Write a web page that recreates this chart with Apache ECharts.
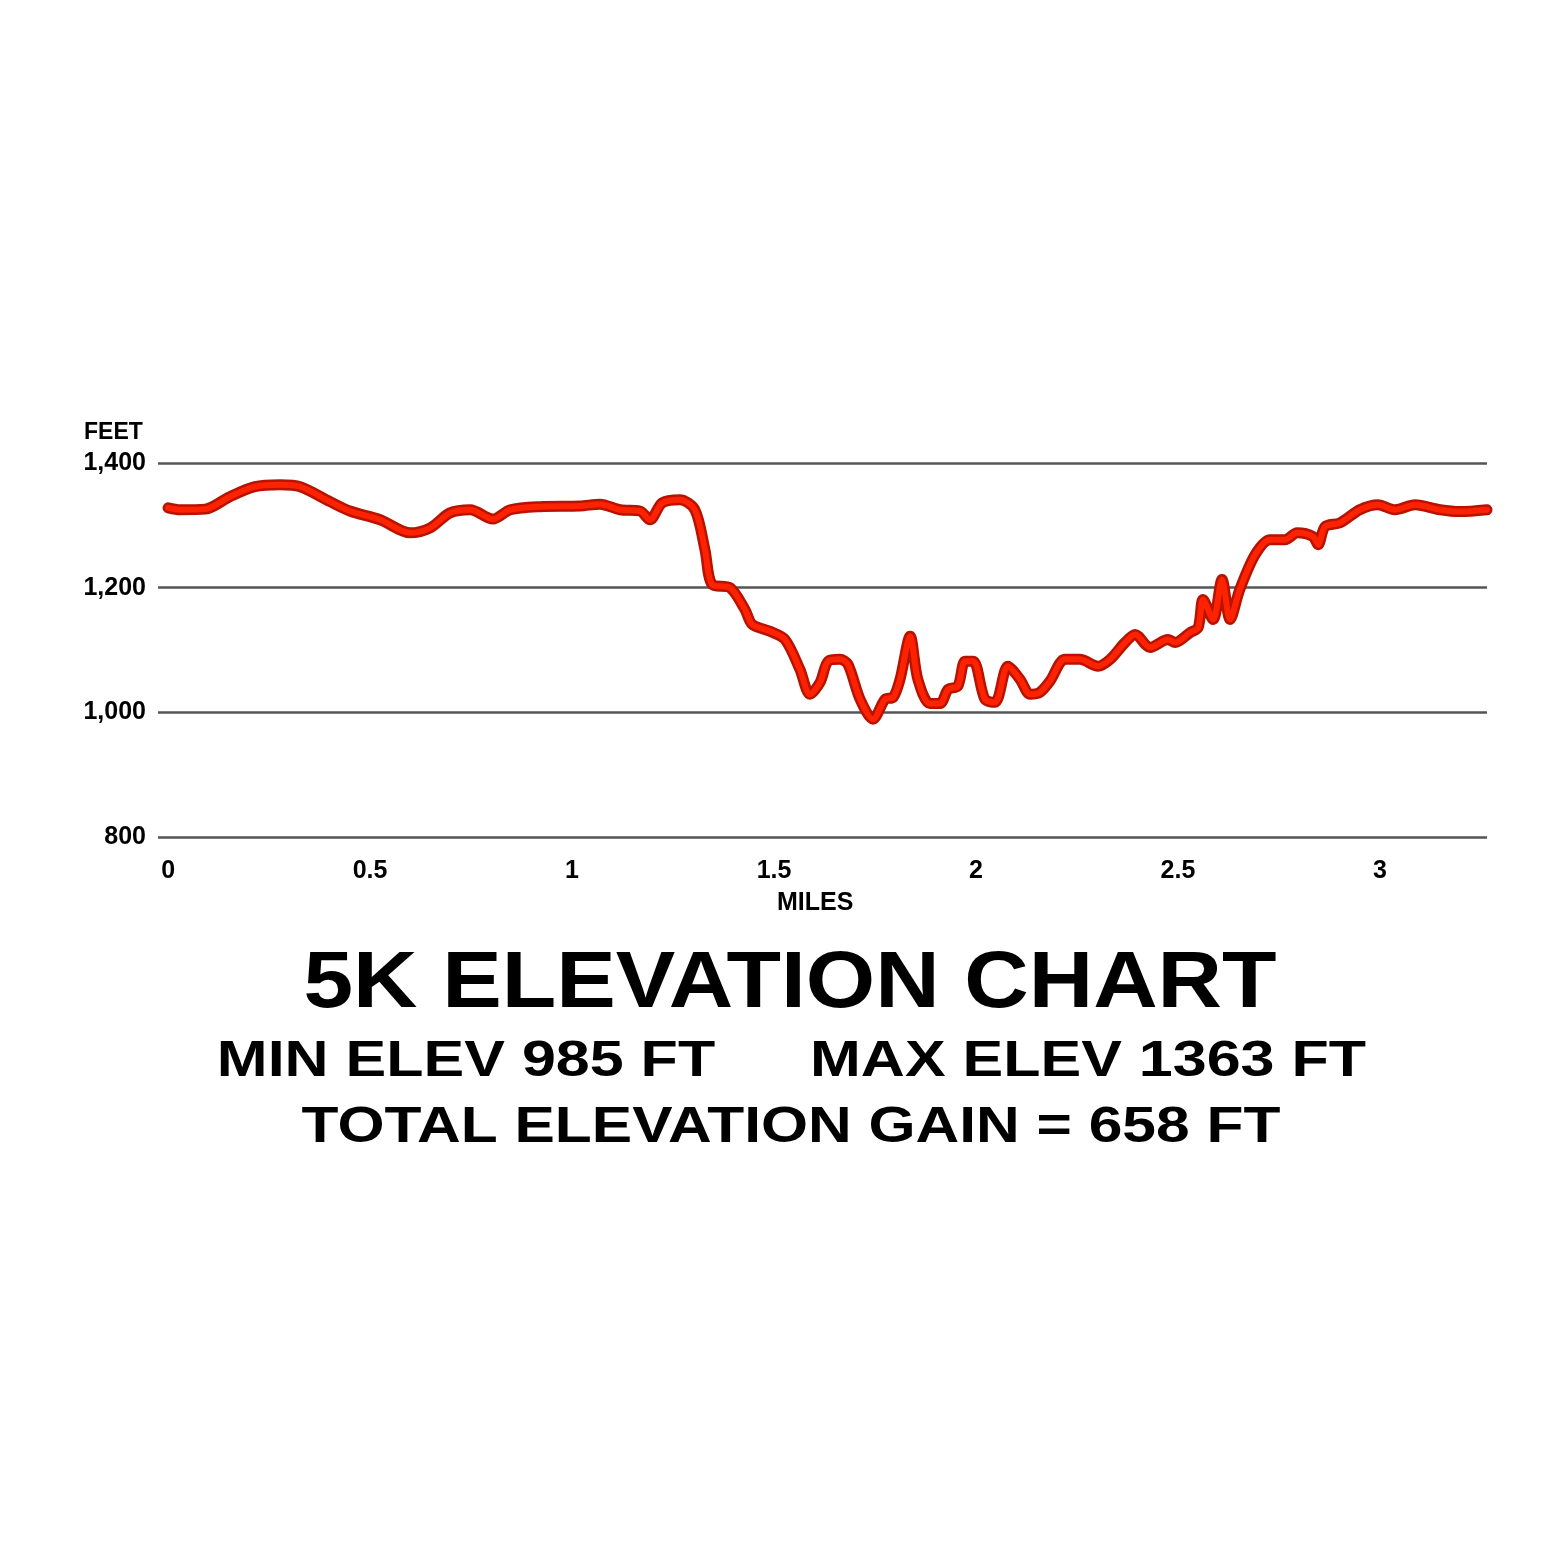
<!DOCTYPE html>
<html>
<head>
<meta charset="utf-8">
<script src="https://cdn.jsdelivr.net/npm/echarts@6/dist/echarts.min.js"></script>
<style>
  html, body { margin: 0; padding: 0; background: #fff; }
  #chart { width: 1560px; height: 1560px; }
</style>
</head>
<body>
<div id="chart"></div>
<script>
// miles along the course
var miles = [0, 0.030, 0.092, 0.153, 0.215, 0.277, 0.327, 0.401, 0.450, 0.525, 0.599, 0.649, 0.698, 0.748, 0.804, 0.847, 0.921,
  1.020, 1.069, 1.119, 1.168, 1.193, 1.223, 1.267, 1.304, 1.329, 1.347, 1.391, 1.428, 1.446, 1.490, 1.527, 1.564, 1.589, 1.614,
  1.634, 1.663, 1.683, 1.713, 1.745, 1.775, 1.795, 1.812, 1.837, 1.856, 1.886, 1.911, 1.931, 1.955, 1.973, 1.993, 2.022, 2.047,
  2.079, 2.109, 2.134, 2.158, 2.183, 2.220, 2.257, 2.302, 2.332, 2.369, 2.394, 2.431, 2.475, 2.493, 2.530, 2.550, 2.562, 2.587,
  2.609, 2.629, 2.653, 2.691, 2.728, 2.765, 2.795, 2.834, 2.847, 2.864, 2.901, 2.950, 2.995, 3.037, 3.087, 3.149, 3.198, 3.265];
// elevation in feet
var feet = [1328, 1325, 1326, 1346, 1362, 1365, 1362, 1338, 1323, 1309, 1288, 1296, 1320, 1325, 1310, 1325, 1330,
  1331, 1334, 1325, 1323, 1309, 1336, 1341, 1325, 1261, 1205, 1200, 1165, 1141, 1130, 1117, 1069, 1029, 1048,
  1082, 1085, 1077, 1021, 989, 1021, 1024, 1053, 1122, 1053, 1014, 1014, 1037, 1042, 1082, 1082, 1021, 1016,
  1074, 1053, 1029, 1032, 1050, 1085, 1085, 1074, 1085, 1112, 1125, 1104, 1117, 1112, 1128, 1136, 1181, 1149,
  1213, 1149, 1197, 1253, 1277, 1277, 1288, 1282, 1269, 1298, 1304, 1325, 1333, 1325, 1333, 1325, 1322, 1325];
var xTicks = [0, 0.5, 1, 1.5, 2, 2.5, 3];

var pts = miles.map(function (m, i) { return [m, feet[i]]; });
var font = '"Liberation Sans", Arial, sans-serif';

// centred heavy text, stretched wider like the original poster font
function bigText(str, x, y, size, sx) {
  return {
    type: 'text', x: x, y: y, scaleX: sx, originX: 0, originY: 0,
    style: { text: str, font: '900 ' + size + 'px ' + font, fill: '#000', align: 'center', verticalAlign: 'middle' }
  };
}

var chart = echarts.init(document.getElementById('chart'));
chart.setOption({
  backgroundColor: '#fff',
  animation: false,
  grid: { left: 158, right: 73, top: 463, bottom: 723 },
  xAxis: {
    type: 'value', min: -0.025, max: 3.265,
    axisLine: { show: false }, axisTick: { show: false }, splitLine: { show: false },
    axisLabel: { customValues: xTicks, margin: 22, fontSize: 25, color: '#000', fontFamily: font, fontWeight: 'bold' }
  },
  yAxis: {
    type: 'value', min: 800, max: 1400, interval: 200,
    axisLine: { show: false }, axisTick: { show: false },
    splitLine: { lineStyle: { color: '#555', width: 2.5 } },
    axisLabel: {
      margin: 12, fontSize: 25, color: '#000', fontFamily: font, fontWeight: 'bold',
      formatter: function (v) { return v >= 1000 ? Math.floor(v / 1000) + ',' + String(v % 1000).padStart(3, '0') : v; }
    }
  },
  series: [
    { type: 'line', data: pts, symbol: 'none', smooth: 0.3, lineStyle: { color: '#b81200', width: 11, join: 'round', cap: 'round' } },
    { type: 'line', data: pts, symbol: 'none', smooth: 0.3, lineStyle: { color: '#ff2200', width: 6, join: 'round', cap: 'round' } }
  ],
  graphic: [
    { type: 'text', left: 84, top: 421, style: { text: 'FEET', font: 'bold 23px ' + font, fill: '#000' } },
    { type: 'text', left: 777, top: 891, style: { text: 'MILES', font: 'bold 25px ' + font, fill: '#000' } },
    bigText('5K ELEVATION CHART', 790, 985, 80, 1.115),
    bigText('MIN ELEV 985 FT', 466, 1062, 50, 1.22),
    bigText('MAX ELEV 1363 FT', 1088, 1062, 50, 1.22),
    bigText('TOTAL ELEVATION GAIN = 658 FT', 791, 1128, 50, 1.21)
  ]
});
</script>
</body>
</html>
